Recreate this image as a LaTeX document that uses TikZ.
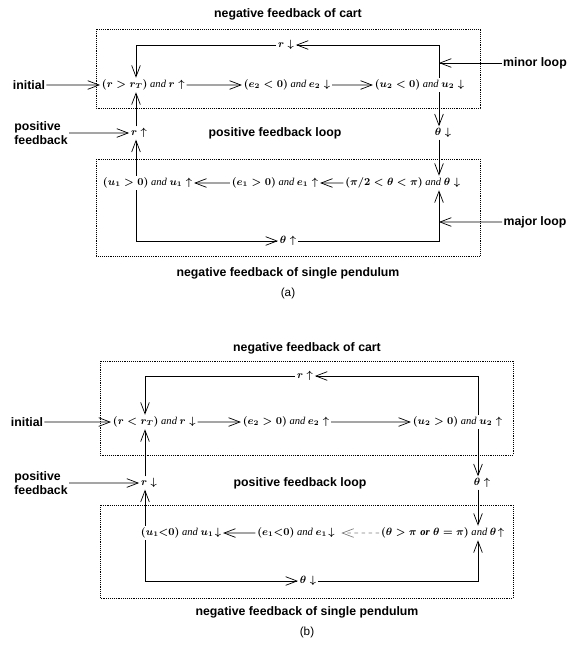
\documentclass[tikz,border=0pt]{standalone}
\usepackage{fontspec}
\setmainfont{Liberation Serif}
\newfontfamily\labelfont{Liberation Sans}
\usetikzlibrary{arrows.meta}

\begin{document}
\begin{tikzpicture}[scale=0.3,
  lbl/.style={font=\labelfont\bfseries\fontsize{10.5}{11.5}\selectfont, inner sep=1pt},
  sublbl/.style={font=\labelfont\fontsize{10}{11}\selectfont, inner sep=1pt},
  st/.style={font=\fontsize{9}{10}\selectfont\boldmath, inner sep=1.5pt},
  arr/.style={-{Straight Barb[length=3.4mm,width=2.6mm]}, line width=0.6pt},
  box/.style={densely dotted, line width=0.6pt}]
\useasboundingbox (0,0) rectangle (57,-64.6);
\draw[box] (9.6,-2.9) rectangle (48.0,-10.8);
\draw[box] (9.6,-15.9) rectangle (48.0,-25.6);
\node[lbl] (ta) at (28.8,-1.4) {negative feedback of cart};
\node[lbl] (ini1) at (2.9,-8.5) {initial};
\node[st,anchor=west] (s1) at (10.0,-8.5) {$(r>r_T)$ \textit{and} $r\uparrow$};
\node[st] (s2) at (28.7,-8.5) {$(e_2<0)$ \textit{and} $e_2\downarrow$};
\node[st,anchor=east] (s3) at (46.6,-8.5) {$(u_2<0)$ \textit{and} $u_2\downarrow$};
\node[st] (r1) at (28.6,-4.5) {$r\downarrow$};
\node[lbl] (ml) at (53.5,-6.3) {minor loop};
\node[st] (th1) at (44.3,-13.3) {$\theta\downarrow$};
\node[st] (r2) at (13.9,-13.3) {$r\uparrow$};
\node[lbl,align=left] (pf1) at (4.1,-13.3) {positive\\feedback};
\node[lbl] (pfl1) at (27.5,-13.3) {positive feedback loop};
\node[st,anchor=west] (s4) at (10.1,-18.3) {$(u_1>0)$ \textit{and} $u_1\uparrow$};
\node[st] (s5) at (27.5,-18.3) {$(e_1>0)$ \textit{and} $e_1\uparrow$};
\node[st,anchor=east] (s6) at (46.2,-18.3) {$(\pi/2<\theta<\pi)$ \textit{and} $\theta\downarrow$};
\node[st] (th2) at (28.8,-24.1) {$\theta\uparrow$};
\node[lbl] (mj) at (53.5,-22.2) {major loop};
\node[lbl] (tb) at (28.8,-27.3) {negative feedback of single pendulum};
\node[sublbl] (ca) at (28.8,-29.3) {(a)};
\coordinate (la) at (13.6,-4.5);
\coordinate (ra) at (43.9,-4.5);
\draw[arr] (ini1) -- (s1);
\draw[arr] (s1) -- (s2);
\draw[arr] (s2) -- (s3);
\draw[arr] (s3.north -| ra) |- (r1);
\draw[arr] (r1) -| (s1.north -| la);
\draw[arr] (ml) -- (ml.west -| ra);
\draw[arr] (s3.south -| ra) -- (th1.north -| ra);
\draw[arr] (th1.south -| ra) -- (s6.north -| ra);
\draw[arr] (s6) -- (s5);
\draw[arr] (s5) -- (s4);
\draw[arr] (s4.north -| la) -- (r2.south -| la);
\draw[arr] (r2.north -| la) -- (s1.south -| la);
\draw[arr] (pf1) -- (r2);
\draw[arr] (s4.south -| la) |- (th2);
\draw[arr] (th2) -| (s6.south -| ra);
\draw[arr] (mj) -- (mj.west -| ra);
\draw[box] (10.0,-36.1) rectangle (51.3,-45.5);
\draw[box] (10.0,-50.5) rectangle (51.3,-59.8);
\node[lbl] (tc) at (30.7,-34.8) {negative feedback of cart};
\node[lbl] (ini2) at (2.7,-42.2) {initial};
\node[st,anchor=west] (s7) at (11.1,-42.2) {$(r<r_T)$ \textit{and} $r\downarrow$};
\node[st] (s8) at (28.6,-42.2) {$(e_2>0)$ \textit{and} $e_2\uparrow$};
\node[st,anchor=east] (s9) at (50.4,-42.2) {$(u_2>0)$ \textit{and} $u_2\uparrow$};
\node[st] (r3) at (30.5,-37.6) {$r\uparrow$};
\node[st] (th3) at (48.2,-48.3) {$\theta\uparrow$};
\node[st] (r4) at (14.9,-48.3) {$r\downarrow$};
\node[lbl,align=left] (pf2) at (4.1,-48.3) {positive\\feedback};
\node[lbl] (pfl2) at (30.0,-48.3) {positive feedback loop};
\node[st,anchor=west] (s10) at (13.9,-53.3) {$(u_1{<}0)$ \textit{and} $u_1\!\downarrow$};
\node[st] (s11) at (29.6,-53.3) {$(e_1{<}0)$ \textit{and} $e_1\!\downarrow$};
\node[st,anchor=east] (s12) at (50.6,-53.3) {$(\theta>\pi\;\mathit{or}\;\theta=\pi)$ \textit{and} $\theta\!\uparrow$};
\node[st] (th4) at (30.8,-58.1) {$\theta\downarrow$};
\node[lbl] (td) at (30.7,-61.2) {negative feedback of single pendulum};
\node[sublbl] (cb) at (30.7,-63.2) {(b)};
\coordinate (lb) at (14.5,-37.6);
\coordinate (rb) at (47.8,-37.6);
\draw[arr] (ini2) -- (s7);
\draw[arr] (s7) -- (s8);
\draw[arr] (s8) -- (s9);
\draw[arr] (s9.north -| rb) |- (r3);
\draw[arr] (r3) -| (s7.north -| lb);
\draw[arr] (s9.south -| rb) -- (th3.north -| rb);
\draw[arr] (th3.south -| rb) -- (s12.north -| rb);
\draw[arr,dashed,gray,shorten >=4pt] (s12) -- (s11);
\draw[arr] (s11) -- (s10);
\draw[arr] (s10.north -| lb) -- (r4.south -| lb);
\draw[arr] (r4.north -| lb) -- (s7.south -| lb);
\draw[arr] (pf2) -- (r4);
\draw[arr] (s10.south -| lb) |- (th4);
\draw[arr] (th4) -| (s12.south -| rb);
\end{tikzpicture}
\end{document}
